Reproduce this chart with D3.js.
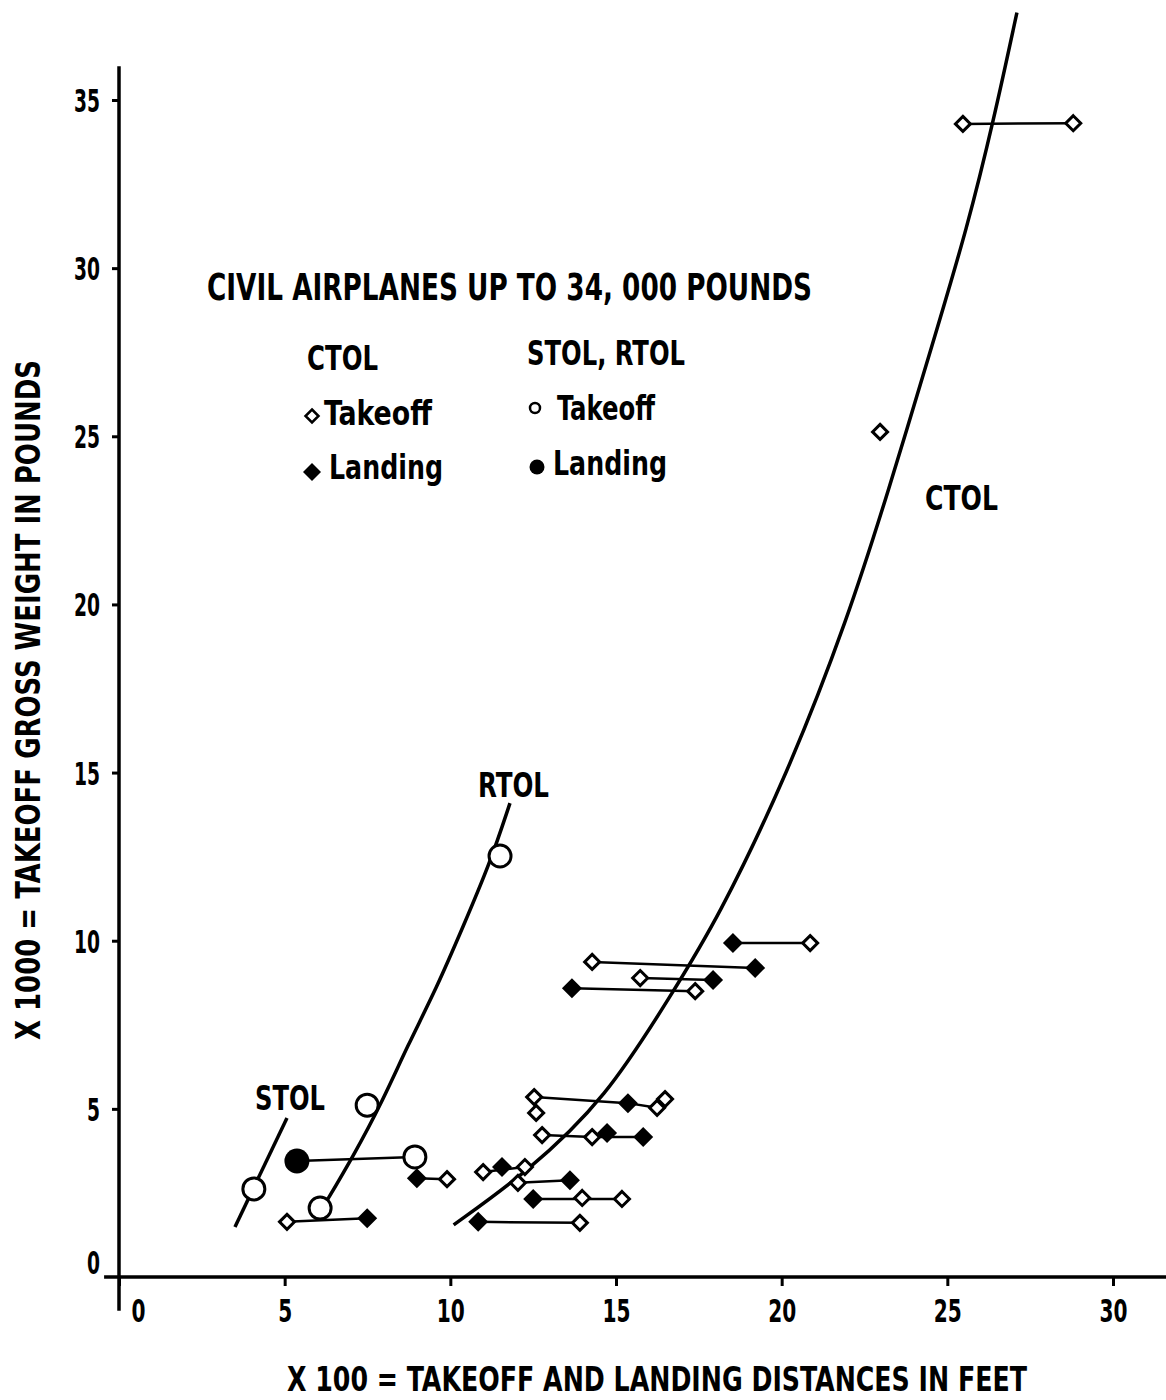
<!DOCTYPE html>
<html>
<head>
<meta charset="utf-8">
<script src="https://cdn.jsdelivr.net/npm/d3@7"></script>
<style>
  body { margin: 0; background: #fff; }
  text { font-family: "Liberation Sans Narrow", "DejaVu Sans Condensed", "Roboto Condensed", "Liberation Sans", sans-serif; font-weight: bold; fill: #000; }
</style>
</head>
<body>
<div id="mainDiv"></div>
<script>
// Values: x in hundreds of feet, y in thousands of pounds
let xTicks = [0, 5, 10, 15, 20, 25, 30];
let yTicks = [0, 5, 10, 15, 20, 25, 30, 35];

// CTOL takeoff (open diamonds)
let ctolTakeoff = [
  [25.47, 34.29], [28.80, 34.31], [22.97, 25.13], [20.86, 9.93],
  [14.28, 9.37], [15.73, 8.89], [17.39, 8.50], [12.53, 5.35],
  [12.59, 4.88], [16.24, 5.03], [16.48, 5.29], [12.77, 4.22],
  [14.28, 4.16], [10.99, 3.12], [12.25, 3.27], [12.04, 2.80],
  [13.98, 2.35], [15.18, 2.32], [13.91, 1.61], [5.07, 1.64], [9.90, 2.91]
];

// CTOL landing (filled diamonds)
let ctolLanding = [
  [18.53, 9.93], [19.20, 9.19], [17.93, 8.83], [13.67, 8.59],
  [15.36, 5.17], [14.73, 4.28], [15.82, 4.16], [11.56, 3.27],
  [13.61, 2.88], [12.50, 2.32], [10.84, 1.64], [7.49, 1.75], [8.99, 2.94]
];

// lines joining takeoff and landing of one airplane
let ctolLinks = [
  [25.47, 34.29, 28.80, 34.31], [18.53, 9.93, 20.86, 9.93],
  [14.28, 9.37, 19.20, 9.19], [15.73, 8.89, 17.93, 8.83],
  [13.67, 8.59, 17.39, 8.50], [12.53, 5.35, 15.36, 5.17],
  [15.36, 5.17, 16.24, 5.03], [12.77, 4.22, 14.28, 4.16],
  [14.28, 4.16, 15.82, 4.16], [10.99, 3.12, 12.25, 3.27],
  [12.04, 2.80, 13.61, 2.88], [12.50, 2.32, 15.18, 2.32],
  [10.84, 1.64, 13.91, 1.61], [5.07, 1.64, 7.49, 1.75],
  [8.99, 2.94, 9.90, 2.91]
];

// STOL / RTOL takeoff (open circles) and landing (filled circle)
let stolTakeoff = [[4.07, 2.62], [7.49, 5.11], [8.93, 3.57], [6.07, 2.05], [11.50, 12.52]];
let stolLanding = [[5.37, 3.45]];
let stolLinks = [[5.37, 3.45, 8.93, 3.57]];

// trend curves
let ctolCurve = [
  [10.1, 1.55], [12.3, 3.1], [14.7, 5.3], [16.7, 8.45], [18.05, 10.6],
  [20.2, 15.0], [22.0, 19.6], [23.2, 23.3], [24.6, 27.9], [25.6, 31.2],
  [26.4, 34.4], [27.1, 37.6]
];
let rtolCurve = [
  [6.16, 2.08], [7.06, 3.57], [7.97, 5.26], [8.69, 6.84], [9.60, 8.62],
  [10.38, 10.41], [11.20, 12.31], [11.80, 14.09]
];
let stolCurve = [[3.50, 1.49], [5.07, 4.73]];

const width = 1166, height = 1400;

let x = d3.scaleLinear().domain([0, 30]).range([119, 1113]);
let y = d3.scaleLinear().domain([0, 35]).range([1277, 100]);

const svg = d3.select("#mainDiv")
  .append("svg")
  .attr("width", width)
  .attr("height", height)
  .attr("viewBox", [0, 0, width, height]);

// helper: condensed text squeezed to the width seen in the figure
function label(g, str, px, py, len, size) {
  return g.append("text")
    .attr("x", px)
    .attr("y", py)
    .attr("font-size", size)
    .attr("textLength", len)
    .attr("lengthAdjust", "spacingAndGlyphs")
    .text(str);
}

let diamond = s => `M0,${-s}L${s},0L0,${s}L${-s},0Z`;

// axes
let xAxis = g => g
  .attr("transform", `translate(0,${y(0)})`)
  .call(d3.axisBottom(x).tickValues(xTicks).tickSize(9).tickSizeOuter(0).tickFormat(d => d))
  .call(g => g.select(".domain").remove())
  .call(g => g.selectAll(".tick line").attr("stroke-width", 3))
  .call(g => g.selectAll(".tick text")
    .attr("font-size", 32)
    .attr("font-family", null)
    .attr("dy", null)
    .attr("y", 45)
    .attr("textLength", d => String(d).length * 14)
    .attr("lengthAdjust", "spacingAndGlyphs")
    .attr("dx", d => d === 0 ? 19 : 0));

let yAxis = g => g
  .attr("transform", `translate(${x(0)},0)`)
  .call(d3.axisLeft(y).tickValues(yTicks).tickSize(7).tickSizeOuter(0).tickFormat(d => d))
  .call(g => g.select(".domain").remove())
  .call(g => g.selectAll(".tick line").attr("stroke-width", 3))
  .call(g => g.selectAll(".tick text")
    .attr("font-size", 32)
    .attr("font-family", null)
    .attr("x", -19)
    .attr("dy", d => d === 0 ? "-0.1em" : "0.36em")
    .attr("textLength", d => String(d).length * 13)
    .attr("lengthAdjust", "spacingAndGlyphs"))
  .call(g => g.selectAll(".tick").filter(d => d === 0).select("line").remove());

svg.append("g").call(xAxis);
svg.append("g").call(yAxis);

// axis lines, slightly overshooting as drawn in the figure
svg.append("line")
  .attr("x1", x(-0.45)).attr("x2", width)
  .attr("y1", y(0)).attr("y2", y(0))
  .attr("stroke", "#000").attr("stroke-width", 3.5);
svg.append("line")
  .attr("x1", x(0)).attr("x2", x(0))
  .attr("y1", y(36.0)).attr("y2", y(-1.0))
  .attr("stroke", "#000").attr("stroke-width", 3.5);

// curves (smoothed through the read points)
let smooth = d3.line()
  .x(d => x(d[0]))
  .y(d => y(d[1]))
  .curve(d3.curveBasis);

[ctolCurve, rtolCurve, stolCurve].forEach(c => {
  svg.append("path")
    .attr("d", smooth(c))
    .attr("fill", "none")
    .attr("stroke", "#000")
    .attr("stroke-width", 3.5);
});

// link lines
svg.append("g")
  .selectAll("line")
  .data(ctolLinks.concat(stolLinks))
  .join("line")
  .attr("x1", d => x(d[0]))
  .attr("y1", d => y(d[1]))
  .attr("x2", d => x(d[2]))
  .attr("y2", d => y(d[3]))
  .attr("stroke", "#000")
  .attr("stroke-width", 2.5);

// markers
svg.append("g")
  .selectAll("path")
  .data(ctolLanding)
  .join("path")
  .attr("transform", d => `translate(${x(d[0])},${y(d[1])})`)
  .attr("d", diamond(10))
  .attr("fill", "#000");

svg.append("g")
  .selectAll("path")
  .data(ctolTakeoff)
  .join("path")
  .attr("transform", d => `translate(${x(d[0])},${y(d[1])})`)
  .attr("d", diamond(7.5))
  .attr("fill", "#fff")
  .attr("stroke", "#000")
  .attr("stroke-width", 3);

svg.append("g")
  .selectAll("circle")
  .data(stolTakeoff)
  .join("circle")
  .attr("cx", d => x(d[0]))
  .attr("cy", d => y(d[1]))
  .attr("r", 11)
  .attr("fill", "#fff")
  .attr("stroke", "#000")
  .attr("stroke-width", 3);

svg.append("g")
  .selectAll("circle")
  .data(stolLanding)
  .join("circle")
  .attr("cx", d => x(d[0]))
  .attr("cy", d => y(d[1]))
  .attr("r", 12.5)
  .attr("fill", "#000");

// legend and annotations
let notes = svg.append("g");
label(notes, "CIVIL AIRPLANES UP TO 34, 000 POUNDS", 207, 300, 605, 37);
label(notes, "CTOL", 307, 370, 71, 34);
label(notes, "STOL, RTOL", 527, 365, 158, 34);
label(notes, "Takeoff", 324, 425, 108, 34);
label(notes, "Landing", 329, 479, 114, 34);
label(notes, "Takeoff", 557, 420, 98, 34);
label(notes, "Landing", 553, 475, 114, 34);
label(notes, "CTOL", 925, 510, 73, 34);
label(notes, "RTOL", 478, 797, 71, 34);
label(notes, "STOL", 255, 1110, 70, 34);
label(notes, "X 100 = TAKEOFF AND LANDING DISTANCES IN FEET", 287, 1391, 740, 33);

notes.append("text")
  .attr("transform", "translate(40,1040) rotate(-90)")
  .attr("font-size", 34)
  .attr("textLength", 680)
  .attr("lengthAdjust", "spacingAndGlyphs")
  .text("X 1000 = TAKEOFF GROSS WEIGHT IN POUNDS");

notes.append("path")
  .attr("transform", "translate(312,416)")
  .attr("d", diamond(6.5))
  .attr("fill", "#fff").attr("stroke", "#000").attr("stroke-width", 2.5);
notes.append("path")
  .attr("transform", "translate(312,472)")
  .attr("d", diamond(9))
  .attr("fill", "#000");
notes.append("circle")
  .attr("cx", 535).attr("cy", 408).attr("r", 5)
  .attr("fill", "#fff").attr("stroke", "#000").attr("stroke-width", 2.5);
notes.append("circle")
  .attr("cx", 537).attr("cy", 467).attr("r", 7.5)
  .attr("fill", "#000");
</script>
</body>
</html>
